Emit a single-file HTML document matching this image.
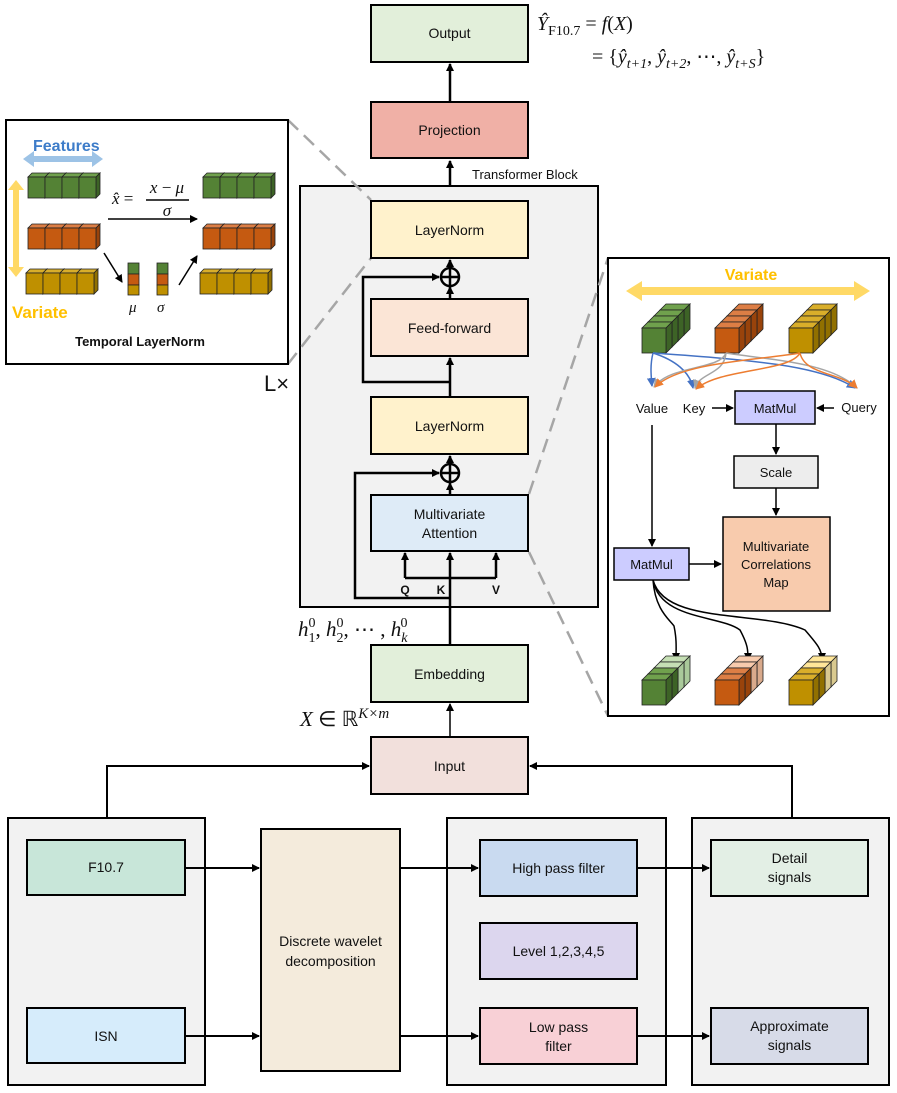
<!DOCTYPE html>
<html><head><meta charset="utf-8"><style>
html,body{margin:0;padding:0;background:#fff}
svg{display:block}
text{font-family:"Liberation Sans",sans-serif;fill:#111}
.m{font-family:"Liberation Serif",serif;font-style:italic}
</style></head><body>
<svg width="897" height="1093" viewBox="0 0 897 1093" xmlns="http://www.w3.org/2000/svg">
<defs>
<marker id="a" markerWidth="8" markerHeight="8" refX="7" refY="4" orient="auto" markerUnits="userSpaceOnUse"><path d="M0,0 L8,4 L0,8z" fill="#000"/></marker>
<marker id="mb" markerWidth="9" markerHeight="9" refX="8" refY="4.5" orient="auto" markerUnits="userSpaceOnUse"><path d="M0,0 L9,4.5 L0,9z" fill="#4472c4"/></marker>
<marker id="mg" markerWidth="9" markerHeight="9" refX="8" refY="4.5" orient="auto" markerUnits="userSpaceOnUse"><path d="M0,0 L9,4.5 L0,9z" fill="#a5a5a5"/></marker>
<marker id="mo" markerWidth="9" markerHeight="9" refX="8" refY="4.5" orient="auto" markerUnits="userSpaceOnUse"><path d="M0,0 L9,4.5 L0,9z" fill="#ed7d31"/></marker>
<g id="cg"><polygon points="0,0 4,-4 21,-4 17,0" fill="#70a14d" stroke="#222" stroke-width="0.8"/><polygon points="17,0 21,-4 21,17 17,21" fill="#3d6326" stroke="#222" stroke-width="0.8"/><rect width="17" height="21" fill="#548235" stroke="#222" stroke-width="0.8"/></g>
<g id="co"><polygon points="0,0 4,-4 21,-4 17,0" fill="#dd7e45" stroke="#222" stroke-width="0.8"/><polygon points="17,0 21,-4 21,17 17,21" fill="#99430b" stroke="#222" stroke-width="0.8"/><rect width="17" height="21" fill="#c55a11" stroke="#222" stroke-width="0.8"/></g>
<g id="cy"><polygon points="0,0 4,-4 21,-4 17,0" fill="#d9ae2a" stroke="#222" stroke-width="0.8"/><polygon points="17,0 21,-4 21,17 17,21" fill="#917000" stroke="#222" stroke-width="0.8"/><rect width="17" height="21" fill="#bf9000" stroke="#222" stroke-width="0.8"/></g>
<g id="rg"><use href="#cg"/><use href="#cg" x="17"/><use href="#cg" x="34"/><use href="#cg" x="51"/></g>
<g id="ro"><use href="#co"/><use href="#co" x="17"/><use href="#co" x="34"/><use href="#co" x="51"/></g>
<g id="ry"><use href="#cy"/><use href="#cy" x="17"/><use href="#cy" x="34"/><use href="#cy" x="51"/></g>
<g id="sg"><polygon points="0,0 6,-6 30,-6 24,0" fill="#70a14d" stroke="#222" stroke-width="0.8"/><polygon points="24,0 30,-6 30,19 24,25" fill="#3d6326" stroke="#222" stroke-width="0.8"/><rect width="24" height="25" fill="#548235" stroke="#222" stroke-width="0.8"/></g>
<g id="so"><polygon points="0,0 6,-6 30,-6 24,0" fill="#dd7e45" stroke="#222" stroke-width="0.8"/><polygon points="24,0 30,-6 30,19 24,25" fill="#99430b" stroke="#222" stroke-width="0.8"/><rect width="24" height="25" fill="#c55a11" stroke="#222" stroke-width="0.8"/></g>
<g id="sy"><polygon points="0,0 6,-6 30,-6 24,0" fill="#d9ae2a" stroke="#222" stroke-width="0.8"/><polygon points="24,0 30,-6 30,19 24,25" fill="#917000" stroke="#222" stroke-width="0.8"/><rect width="24" height="25" fill="#bf9000" stroke="#222" stroke-width="0.8"/></g>
<g id="lg"><polygon points="0,0 6,-6 30,-6 24,0" fill="#c5dfb4" stroke="#222" stroke-width="0.8"/><polygon points="24,0 30,-6 30,19 24,25" fill="#a9c99a" stroke="#222" stroke-width="0.8"/><rect width="24" height="25" fill="#a9d18e" stroke="#222" stroke-width="0.8"/></g>
<g id="lo"><polygon points="0,0 6,-6 30,-6 24,0" fill="#f8cbad" stroke="#222" stroke-width="0.8"/><polygon points="24,0 30,-6 30,19 24,25" fill="#d9aa8c" stroke="#222" stroke-width="0.8"/><rect width="24" height="25" fill="#f4b183" stroke="#222" stroke-width="0.8"/></g>
<g id="ly"><polygon points="0,0 6,-6 30,-6 24,0" fill="#ffe699" stroke="#222" stroke-width="0.8"/><polygon points="24,0 30,-6 30,19 24,25" fill="#d9c98f" stroke="#222" stroke-width="0.8"/><rect width="24" height="25" fill="#ffd966" stroke="#222" stroke-width="0.8"/></g>
</defs>

<!-- Output & projection -->
<rect x="371" y="5" width="157" height="57" fill="#e2efda" stroke="#000" stroke-width="2"/>
<text x="449.5" y="38" font-size="14" text-anchor="middle">Output</text>
<rect x="371" y="102" width="157" height="56" fill="#f0b0a6" stroke="#000" stroke-width="2"/>
<text x="449.5" y="135" font-size="14" text-anchor="middle">Projection</text>
<line x1="450" y1="101" x2="450" y2="64" stroke="#000" stroke-width="2.5" marker-end="url(#a)"/>
<text class="m" x="537" y="30" font-size="20">Ŷ<tspan font-style="normal" font-size="14" dy="5">F10.7</tspan><tspan dy="-5" font-style="normal"> = </tspan>f<tspan font-style="normal">(</tspan>X<tspan font-style="normal">)</tspan></text>
<text class="m" x="592" y="63" font-size="20"><tspan font-style="normal">= {</tspan>ŷ<tspan font-size="14" dy="5">t+1</tspan><tspan dy="-5" font-style="normal">, </tspan>ŷ<tspan font-size="14" dy="5">t+2</tspan><tspan dy="-5" font-style="normal">, ⋯, </tspan>ŷ<tspan font-size="14" dy="5">t+S</tspan><tspan dy="-5" font-style="normal">}</tspan></text>

<!-- Transformer block -->
<text x="472" y="179" font-size="13">Transformer Block</text>
<line x1="450" y1="186" x2="450" y2="161" stroke="#000" stroke-width="2.5" marker-end="url(#a)"/>
<rect x="300" y="186" width="298" height="421" fill="#f2f2f2" stroke="#000" stroke-width="2"/>

<!-- dashed connectors -->
<g stroke="#a6a6a6" stroke-width="2.5" stroke-dasharray="14,8" fill="none">
<line x1="288" y1="120" x2="371" y2="200"/><line x1="288" y1="364" x2="371" y2="258"/>
<line x1="529" y1="494" x2="608" y2="258"/><line x1="529" y1="552" x2="608" y2="716"/>
</g>

<text x="264" y="391" font-size="22">L×</text>
<rect x="371" y="201" width="157" height="57" fill="#fff2cc" stroke="#000" stroke-width="2"/>
<text x="449.5" y="235" font-size="14" text-anchor="middle">LayerNorm</text>
<rect x="371" y="299" width="157" height="57" fill="#fbe5d6" stroke="#000" stroke-width="2"/>
<text x="449.5" y="333" font-size="14" text-anchor="middle">Feed-forward</text>
<rect x="371" y="397" width="157" height="57" fill="#fff2cc" stroke="#000" stroke-width="2"/>
<text x="449.5" y="431" font-size="14" text-anchor="middle">LayerNorm</text>
<rect x="371" y="495" width="157" height="56" fill="#deebf7" stroke="#000" stroke-width="2"/>
<text x="449.5" y="519" font-size="14" text-anchor="middle">Multivariate</text>
<text x="449.5" y="538" font-size="14" text-anchor="middle">Attention</text>
<g stroke="#000" stroke-width="2.5" fill="none">
<circle cx="450" cy="277" r="9"/><line x1="441" y1="277" x2="459" y2="277"/><line x1="450" y1="268" x2="450" y2="286"/>
<circle cx="450" cy="473" r="9"/><line x1="441" y1="473" x2="459" y2="473"/><line x1="450" y1="464" x2="450" y2="482"/>
<line x1="450" y1="299" x2="450" y2="287" marker-end="url(#a)"/>
<line x1="450" y1="268" x2="450" y2="260" marker-end="url(#a)"/>
<line x1="450" y1="397" x2="450" y2="358" marker-end="url(#a)"/>
<line x1="450" y1="495" x2="450" y2="483" marker-end="url(#a)"/>
<line x1="450" y1="464" x2="450" y2="456" marker-end="url(#a)"/>
<polyline points="450,382 363,382 363,277 439,277" marker-end="url(#a)"/>
<polyline points="450,598 355,598 355,473 439,473" marker-end="url(#a)"/>
<line x1="450" y1="645" x2="450" y2="553" marker-end="url(#a)"/>
<polyline points="405,578 405,553" marker-end="url(#a)"/>
<polyline points="496,578 496,553" marker-end="url(#a)"/>
<line x1="405" y1="578" x2="496" y2="578"/>
</g>
<text x="405" y="594" font-size="12" font-weight="bold" text-anchor="middle">Q</text>
<text x="441" y="594" font-size="12" font-weight="bold" text-anchor="middle">K</text>
<text x="496" y="594" font-size="12" font-weight="bold" text-anchor="middle">V</text>
<text class="m" x="298" y="636" font-size="21">h<tspan font-size="14" dy="6" font-style="normal">1</tspan><tspan font-size="14" dx="-7" dy="-15" font-style="normal">0</tspan><tspan dy="9" font-style="normal">, </tspan>h<tspan font-size="14" dy="6" font-style="normal">2</tspan><tspan font-size="14" dx="-7" dy="-15" font-style="normal">0</tspan><tspan dy="9" font-style="normal">, ⋯ , </tspan>h<tspan font-size="14" dy="6">k</tspan><tspan font-size="14" dx="-7" dy="-15" font-style="normal">0</tspan></text>

<rect x="371" y="645" width="157" height="57" fill="#e2efda" stroke="#000" stroke-width="2"/>
<text x="449.5" y="679" font-size="14" text-anchor="middle">Embedding</text>
<text class="m" x="300" y="726" font-size="21">X <tspan font-style="normal">∈ ℝ</tspan><tspan font-size="15" dy="-8">K×m</tspan></text>
<line x1="450" y1="737" x2="450" y2="704" stroke="#000" stroke-width="1.5" marker-end="url(#a)"/>
<rect x="371" y="737" width="157" height="57" fill="#f2e0dc" stroke="#000" stroke-width="2"/>
<text x="449.5" y="771" font-size="14" text-anchor="middle">Input</text>
<g stroke="#000" stroke-width="2" fill="none">
<polyline points="107,818 107,766 369,766" marker-end="url(#a)"/>
<polyline points="792,818 792,766 530,766" marker-end="url(#a)"/>
</g>

<!-- bottom panels -->
<rect x="8" y="818" width="197" height="267" fill="#f2f2f2" stroke="#000" stroke-width="2"/>
<rect x="447" y="818" width="219" height="267" fill="#f2f2f2" stroke="#000" stroke-width="2"/>
<rect x="692" y="818" width="197" height="267" fill="#f2f2f2" stroke="#000" stroke-width="2"/>
<rect x="27" y="840" width="158" height="55" fill="#c8e6d9" stroke="#000" stroke-width="2"/>
<text x="106" y="872" font-size="14" text-anchor="middle">F10.7</text>
<rect x="27" y="1008" width="158" height="55" fill="#d6ecfb" stroke="#000" stroke-width="2"/>
<text x="106" y="1041" font-size="14" text-anchor="middle">ISN</text>
<rect x="261" y="829" width="139" height="242" fill="#f4ebdc" stroke="#000" stroke-width="2"/>
<text x="330.5" y="946" font-size="14" text-anchor="middle">Discrete wavelet</text>
<text x="330.5" y="966" font-size="14" text-anchor="middle">decomposition</text>
<rect x="480" y="840" width="157" height="56" fill="#c9daf0" stroke="#000" stroke-width="2"/>
<text x="558.5" y="873" font-size="14" text-anchor="middle">High pass filter</text>
<rect x="480" y="923" width="157" height="56" fill="#dcd6ee" stroke="#000" stroke-width="2"/>
<text x="558.5" y="956" font-size="14" text-anchor="middle">Level 1,2,3,4,5</text>
<rect x="480" y="1008" width="157" height="56" fill="#f8d0d6" stroke="#000" stroke-width="2"/>
<text x="558.5" y="1032" font-size="14" text-anchor="middle">Low pass</text>
<text x="558.5" y="1051" font-size="14" text-anchor="middle">filter</text>
<rect x="711" y="840" width="157" height="56" fill="#e3efe5" stroke="#000" stroke-width="2"/>
<text x="789.5" y="863" font-size="14" text-anchor="middle">Detail</text>
<text x="789.5" y="882" font-size="14" text-anchor="middle">signals</text>
<rect x="711" y="1008" width="157" height="56" fill="#d7dbe8" stroke="#000" stroke-width="2"/>
<text x="789.5" y="1031" font-size="14" text-anchor="middle">Approximate</text>
<text x="789.5" y="1050" font-size="14" text-anchor="middle">signals</text>
<g stroke="#000" stroke-width="2" fill="none">
<line x1="185" y1="868" x2="259" y2="868" marker-end="url(#a)"/>
<line x1="185" y1="1036" x2="259" y2="1036" marker-end="url(#a)"/>
<line x1="400" y1="868" x2="478" y2="868" marker-end="url(#a)"/>
<line x1="400" y1="1036" x2="478" y2="1036" marker-end="url(#a)"/>
<line x1="637" y1="868" x2="709" y2="868" marker-end="url(#a)"/>
<line x1="637" y1="1036" x2="709" y2="1036" marker-end="url(#a)"/>
</g>

<!-- left inset -->
<rect x="6" y="120" width="282" height="244" fill="#fff" stroke="#000" stroke-width="2"/>
<text x="33" y="151" font-size="16" font-weight="bold" style="fill:#3d7cc9">Features</text>
<polygon points="23,159 34,151 34,156 92,156 92,151 103,159 92,167 92,162 34,162 34,167" fill="#9dc3e6"/>
<polygon points="16,180 24,190 19,190 19,267 24,267 16,277 8,267 13,267 13,190 8,190" fill="#ffd966"/>
<text x="12" y="318" font-size="17" font-weight="bold" style="fill:#ffc000">Variate</text>
<use href="#rg" x="28" y="177"/><use href="#ro" x="28" y="228"/><use href="#ry" x="26" y="273"/>
<use href="#rg" x="203" y="177"/><use href="#ro" x="203" y="228"/><use href="#ry" x="200" y="273"/>
<g stroke="#222" stroke-width="0.8">
<rect x="128" y="263" width="11" height="11" fill="#548235"/><rect x="128" y="274" width="11" height="11" fill="#c55a11"/><rect x="128" y="285" width="11" height="10" fill="#bf9000"/>
<rect x="157" y="263" width="11" height="11" fill="#548235"/><rect x="157" y="274" width="11" height="11" fill="#c55a11"/><rect x="157" y="285" width="11" height="10" fill="#bf9000"/>
</g>
<text class="m" x="129" y="312" font-size="15">μ</text>
<text class="m" x="157" y="312" font-size="15">σ</text>
<g stroke="#000" stroke-width="1.5" fill="none">
<line x1="108" y1="219" x2="197" y2="219" marker-end="url(#a)"/>
<line x1="104" y1="253" x2="122" y2="282" marker-end="url(#a)"/>
<line x1="179" y1="285" x2="197" y2="256" marker-end="url(#a)"/>
<line x1="146" y1="200" x2="189" y2="200"/>
</g>
<text class="m" x="112" y="204" font-size="17">x̂ <tspan font-style="normal">=</tspan></text>
<text class="m" x="167" y="193" font-size="17" text-anchor="middle">x <tspan font-style="normal">−</tspan> μ</text>
<text class="m" x="167" y="216" font-size="17" text-anchor="middle">σ</text>
<text x="140" y="346" font-size="13" font-weight="bold" text-anchor="middle">Temporal LayerNorm</text>

<!-- right inset -->
<rect x="608" y="258" width="281" height="458" fill="#fff" stroke="#000" stroke-width="2"/>
<text x="751" y="280" font-size="16" font-weight="bold" text-anchor="middle" style="fill:#ffc000">Variate</text>
<polygon points="626,291 642,281 642,287 854,287 854,281 870,291 854,301 854,295 642,295 642,301" fill="#ffd966"/>
<use href="#sg" x="660" y="310"/><use href="#sg" x="654" y="316"/><use href="#sg" x="648" y="322"/><use href="#sg" x="642" y="328"/>
<use href="#so" x="733" y="310"/><use href="#so" x="727" y="316"/><use href="#so" x="721" y="322"/><use href="#so" x="715" y="328"/>
<use href="#sy" x="807" y="310"/><use href="#sy" x="801" y="316"/><use href="#sy" x="795" y="322"/><use href="#sy" x="789" y="328"/>
<g fill="none" stroke-width="1.5">
<path d="M653,353 C650,365 651,375 652,386" stroke="#4472c4" marker-end="url(#mb)"/>
<path d="M653,353 C675,360 690,372 693,388" stroke="#4472c4" marker-end="url(#mb)"/>
<path d="M653,353 C750,360 820,365 855,388" stroke="#4472c4" marker-end="url(#mb)"/>
<path d="M726,353 C720,370 670,365 654,387" stroke="#a5a5a5" marker-end="url(#mg)"/>
<path d="M726,353 C724,375 700,372 695,388" stroke="#a5a5a5" marker-end="url(#mg)"/>
<path d="M726,353 C770,360 830,362 857,388" stroke="#a5a5a5" marker-end="url(#mg)"/>
<path d="M800,353 C760,360 680,362 655,387" stroke="#ed7d31" marker-end="url(#mo)"/>
<path d="M800,353 C790,372 720,368 696,389" stroke="#ed7d31" marker-end="url(#mo)"/>
<path d="M800,353 C805,375 840,372 857,388" stroke="#ed7d31" marker-end="url(#mo)"/>
</g>
<text x="652" y="413" font-size="13" text-anchor="middle">Value</text>
<text x="694" y="413" font-size="13" text-anchor="middle">Key</text>
<text x="859" y="412" font-size="13" text-anchor="middle">Query</text>
<rect x="735" y="391" width="80" height="33" fill="#ccccff" stroke="#000" stroke-width="1.5"/>
<text x="775" y="413" font-size="13" text-anchor="middle">MatMul</text>
<rect x="734" y="456" width="84" height="32" fill="#ededed" stroke="#000" stroke-width="1.5"/>
<text x="776" y="477" font-size="13" text-anchor="middle">Scale</text>
<rect x="723" y="517" width="107" height="94" fill="#f8cbad" stroke="#000" stroke-width="1.5"/>
<text x="776" y="551" font-size="13" text-anchor="middle">Multivariate</text>
<text x="776" y="569" font-size="13" text-anchor="middle">Correlations</text>
<text x="776" y="587" font-size="13" text-anchor="middle">Map</text>
<rect x="614" y="548" width="75" height="32" fill="#ccccff" stroke="#000" stroke-width="1.5"/>
<text x="651.5" y="569" font-size="13" text-anchor="middle">MatMul</text>
<g stroke="#000" stroke-width="1.5" fill="none">
<line x1="712" y1="408" x2="733" y2="408" marker-end="url(#a)"/>
<line x1="834" y1="408" x2="817" y2="408" marker-end="url(#a)"/>
<line x1="776" y1="424" x2="776" y2="454" marker-end="url(#a)"/>
<line x1="776" y1="488" x2="776" y2="515" marker-end="url(#a)"/>
<line x1="652" y1="425" x2="652" y2="546" marker-end="url(#a)"/>
<line x1="689" y1="564" x2="721" y2="564" marker-end="url(#a)"/>
<path d="M653,580 C655,610 670,620 674,626 C677,640 676,650 676,660" marker-end="url(#a)"/>
<path d="M653,580 C660,620 720,615 740,630 C748,645 748,650 748,660" marker-end="url(#a)"/>
<path d="M653,580 C665,625 760,610 805,630 C818,645 822,650 822,660" marker-end="url(#a)"/>
</g>
<use href="#lg" x="660" y="662"/><use href="#lg" x="654" y="668"/><use href="#sg" x="648" y="674"/><use href="#sg" x="642" y="680"/>
<use href="#lo" x="733" y="662"/><use href="#lo" x="727" y="668"/><use href="#so" x="721" y="674"/><use href="#so" x="715" y="680"/>
<use href="#ly" x="807" y="662"/><use href="#ly" x="801" y="668"/><use href="#sy" x="795" y="674"/><use href="#sy" x="789" y="680"/>
</svg>
</body></html>
